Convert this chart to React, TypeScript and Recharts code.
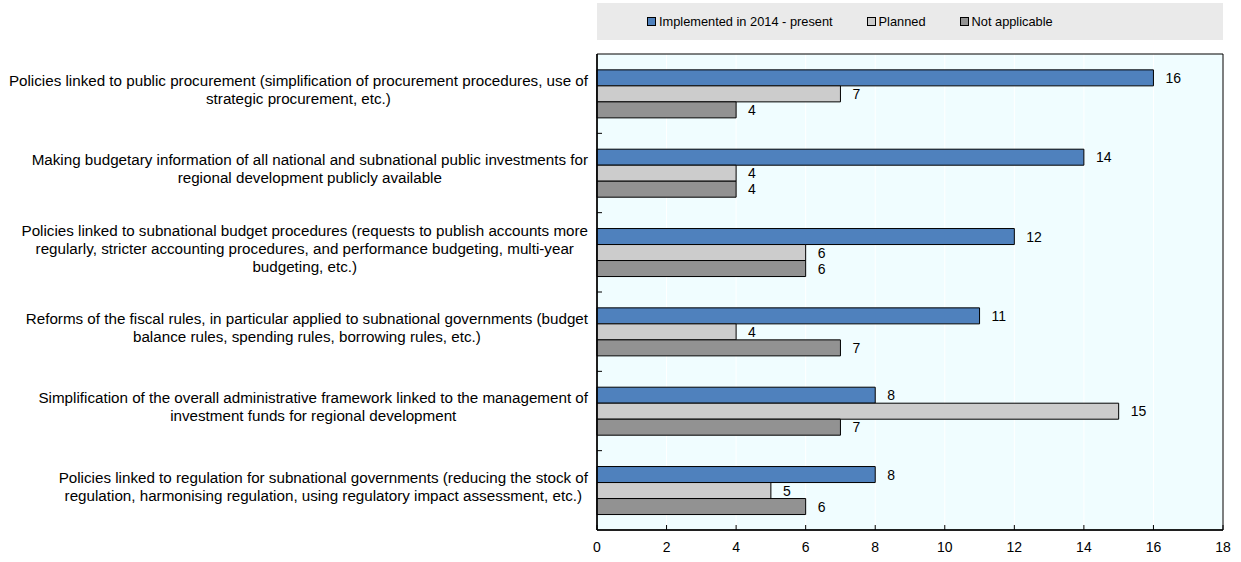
import React from "react";
import {
  Bar,
  BarChart,
  CartesianGrid,
  LabelList,
  Legend,
  ReferenceArea,
  XAxis,
  YAxis,
} from "recharts";

const categories = [
  [
    "Policies linked to public procurement (simplification of procurement procedures, use of",
    "strategic procurement, etc.)",
  ],
  [
    "Making budgetary information of all national and subnational public investments for",
    "regional development publicly available",
  ],
  [
    "Policies linked to subnational budget procedures (requests to publish accounts more",
    "regularly, stricter accounting procedures, and performance budgeting, multi-year",
    "budgeting, etc.)",
  ],
  [
    "Reforms of the fiscal rules, in particular applied to subnational governments (budget",
    "balance rules, spending rules, borrowing rules, etc.)",
  ],
  [
    "Simplification of the overall administrative framework linked to the management of",
    "investment funds for regional development",
  ],
  [
    "Policies linked to regulation for subnational governments (reducing the stock of",
    "regulation, harmonising regulation, using regulatory impact assessment, etc.)",
  ],
];

const implemented = [16, 14, 12, 11, 8, 8];
const planned = [7, 4, 6, 4, 15, 5];
const notApplicable = [4, 4, 6, 7, 7, 6];
const xTicks = [0, 2, 4, 6, 8, 10, 12, 14, 16, 18];

const series = [
  { key: "implemented", name: "Implemented in 2014 - present", color: "#4F81BD" },
  { key: "planned", name: "Planned", color: "#CCCCCC" },
  { key: "notApplicable", name: "Not applicable", color: "#929292" },
];

const data = categories.map((lines, i) => ({
  id: String(i),
  lines,
  implemented: implemented[i],
  planned: planned[i],
  notApplicable: notApplicable[i],
}));

const W = 1241;
const H = 562;
const legendHeight = 37;
// the legend's own height is added on top of margin.top by recharts
const margin = { top: 54 - legendHeight, right: 18, bottom: 2, left: 0 };
const yAxisWidth = 597;
const xAxisHeight = 30;
const plotHeight = H - 54 - margin.bottom - xAxisHeight;
const band = plotHeight / categories.length;
const FONT = '"Liberation Sans", Arial, sans-serif';

let ctx: CanvasRenderingContext2D | null = null;
function textWidth(s: string, size: number) {
  if (!ctx) ctx = document.createElement("canvas").getContext("2d");
  if (!ctx) return s.length * size * 0.48;
  ctx.font = `${size}px "Liberation Sans"`;
  return ctx.measureText(s).width;
}

function CategoryTick(props: any) {
  const { x, y, payload, index } = props;
  const lines: string[] = data[Number(payload.value)].lines;
  const size = 15.2;
  const lh = 18;
  const maxW = Math.max(...lines.map((l) => textWidth(l, size)));
  const cx = x - 9 - maxW / 2;
  const startY = y - ((lines.length - 1) * lh) / 2 - 4;
  return (
    <g>
      {index > 0 && (
        <line x1={x} x2={x + 5} y1={y - band / 2} y2={y - band / 2} stroke="#000" />
      )}
      <text textAnchor="middle" fontFamily={FONT} fontSize={size} fill="#000">
        {lines.map((l, i) => (
          <tspan key={i} x={cx} y={startY + i * lh} dy="0.35em">
            {l}
          </tspan>
        ))}
      </text>
    </g>
  );
}

function ValueTick(props: any) {
  const { x, y, payload } = props;
  return (
    <g>
      <line x1={x} x2={x} y1={y} y2={y - 5} stroke="#000" />
      <text x={x} y={y + 22} textAnchor="middle" fontFamily={FONT} fontSize={14} fill="#000">
        {payload.value}
      </text>
    </g>
  );
}

function LegendBox() {
  return (
    <div
      style={{
        background: "#EAEAEA",
        height: legendHeight,
        display: "flex",
        alignItems: "center",
        paddingLeft: 50,
        gap: 34,
        fontFamily: FONT,
        fontSize: 12.8,
        color: "#000",
      }}
    >
      {series.map((s) => (
        <div key={s.key} style={{ display: "flex", alignItems: "center" }}>
          <span
            style={{
              display: "inline-block",
              width: 7,
              height: 7,
              background: s.color,
              border: "1px solid #000",
              marginRight: 3,
            }}
          />
          {s.name}
        </div>
      ))}
    </div>
  );
}

export default function App() {
  return (
    <div style={{ position: "absolute", left: 0, top: 0, width: W, height: H, background: "#fff" }}>
      <BarChart
        width={W}
        height={H}
        data={data}
        layout="vertical"
        margin={margin}
        barCategoryGap="20%"
        barGap={0}
      >
        <CartesianGrid horizontal={false} vertical fill="#F0FDFF" stroke="#FFFFFF" strokeWidth={1} />
        <ReferenceArea x1={0} x2={18} fill="none" stroke="#000" strokeWidth={1} ifOverflow="visible" />
        <XAxis
          type="number"
          domain={[0, 18]}
          ticks={xTicks}
          height={xAxisHeight}
          tickSize={0}
          tickMargin={0}
          tick={<ValueTick />}
          axisLine={{ stroke: "#000", strokeWidth: 1.5 }}
          tickLine={false}
        />
        <YAxis
          type="category"
          dataKey="id"
          width={yAxisWidth}
          tickSize={0}
          tickMargin={0}
          tick={<CategoryTick />}
          axisLine={{ stroke: "#000", strokeWidth: 1.5 }}
          tickLine={false}
          interval={0}
        />
        <Legend
          verticalAlign="top"
          height={legendHeight}
          content={<LegendBox />}
          wrapperStyle={{ top: 3, left: 597, width: 626 }}
        />
        {series.map((s) => (
          <Bar
            key={s.key}
            dataKey={s.key}
            name={s.name}
            fill={s.color}
            stroke="#000"
            strokeWidth={1}
            isAnimationActive={false}
          >
            <LabelList
              dataKey={s.key}
              position="right"
              offset={12}
              fontFamily={FONT}
              fontSize={14}
              fill="#000"
            />
          </Bar>
        ))}
      </BarChart>
    </div>
  );
}
